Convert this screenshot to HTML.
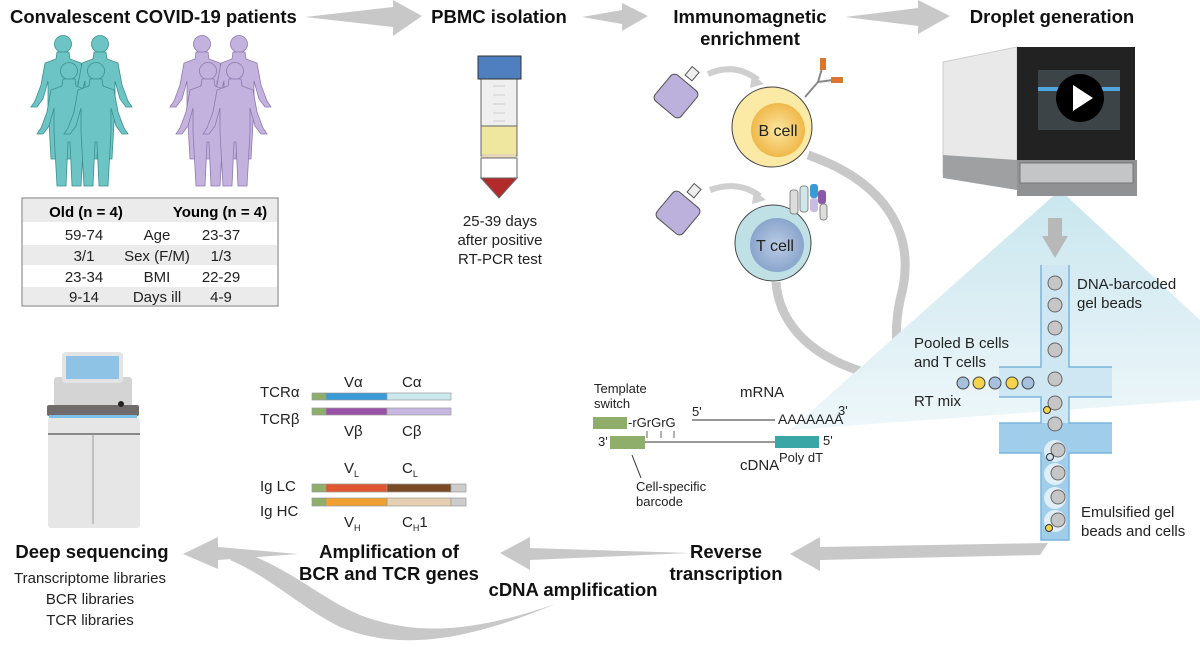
<!DOCTYPE html>
<html><head><meta charset="utf-8"><style>
html,body{margin:0;padding:0;background:#fff;}
svg{display:block;font-family:"Liberation Sans",Arial,sans-serif;}
.t{font-weight:bold;font-size:18.5px;fill:#111;}
.n{font-size:15px;fill:#222;}
.s{font-size:13px;fill:#222;}
</style></head><body>
<svg width="1200" height="649" viewBox="0 0 1200 649" xmlns="http://www.w3.org/2000/svg">
<defs>
<g id="p"><circle cx="30" cy="9" r="8.5"/><path d="M24,17 L36,17 L37,24 L48,28 L52,50 L58,66 L62,72 L56,72 L50,64 L45,46 L45,70 L42,124 L33,124 L31,80 L29,80 L27,124 L18,124 L15,70 L15,46 L10,64 L4,72 L-2,72 L2,66 L8,50 L12,28 L23,24 Z"/></g>
<linearGradient id="cone" x1="0" y1="0" x2="0" y2="1"><stop offset="0" stop-color="#c9e6ee"/><stop offset="1" stop-color="#eef7fa"/></linearGradient>
<radialGradient id="by" cx="0.5" cy="0.5" r="0.5"><stop offset="0" stop-color="#fbe6a0"/><stop offset="1" stop-color="#f0b84a"/></radialGradient>
<radialGradient id="bt" cx="0.5" cy="0.5" r="0.5"><stop offset="0" stop-color="#b9cbe4"/><stop offset="1" stop-color="#8aa5cc"/></radialGradient>
</defs>

<text class="t" x="10" y="23">Convalescent COVID-19 patients</text>
<text class="t" x="499" y="23" text-anchor="middle">PBMC isolation</text>
<text class="t" x="750" y="23" text-anchor="middle">Immunomagnetic</text>
<text class="t" x="750" y="45" text-anchor="middle">enrichment</text>
<text class="t" x="1052" y="23" text-anchor="middle">Droplet generation</text>

<g fill="#c8c8c8">
<path d="M305,17 L393,7 L393,0 L422,16 L393,36 L393,27 Z"/>
<path d="M582,17 L622,10 L622,3 L648,16 L622,31 L622,24 Z"/>
<path d="M845,17 L918,8 L918,0 L950,16 L918,34 L918,26 Z"/>
</g>

<g fill="#6cc4c4" stroke="#3e8f8f" stroke-width="0.8">
<use href="#p" x="33" y="35"/><use href="#p" x="70" y="35"/><use href="#p" x="39" y="62"/><use href="#p" x="66" y="62"/>
</g>
<g fill="#c3b1de" stroke="#8e7aae" stroke-width="0.8">
<use href="#p" x="172" y="35"/><use href="#p" x="209" y="35"/><use href="#p" x="178" y="62"/><use href="#p" x="205" y="62"/>
</g>

<rect x="22" y="198" width="256" height="108" fill="#fff" stroke="#777" stroke-width="1"/>
<rect x="23" y="199" width="254" height="23" fill="#ebebeb"/>
<rect x="23" y="245" width="254" height="20" fill="#ebebeb"/>
<rect x="23" y="287" width="254" height="18" fill="#ebebeb"/>
<text x="86" y="217" text-anchor="middle" font-weight="bold" font-size="15">Old (n = 4)</text>
<text x="220" y="217" text-anchor="middle" font-weight="bold" font-size="15">Young (n = 4)</text>
<g class="n" text-anchor="middle">
<text x="84" y="240">59-74</text><text x="157" y="240">Age</text><text x="221" y="240">23-37</text>
<text x="84" y="261">3/1</text><text x="157" y="261">Sex (F/M)</text><text x="221" y="261">1/3</text>
<text x="84" y="282">23-34</text><text x="157" y="282">BMI</text><text x="221" y="282">22-29</text>
<text x="84" y="302">9-14</text><text x="157" y="302">Days ill</text><text x="221" y="302">4-9</text>
</g>

<rect x="481" y="76" width="36" height="50" fill="#efefef" stroke="#666"/>
<rect x="481" y="126" width="36" height="30" fill="#efe7a0" stroke="#666"/>
<rect x="482" y="154" width="34" height="4" fill="#e6d6b8"/>
<rect x="481" y="158" width="36" height="20" fill="#fff" stroke="#666"/>
<path d="M481,178 L517,178 L499,198 Z" fill="#b22a2a" stroke="#666"/>
<rect x="478" y="56" width="43" height="23" fill="#4f7fbf" stroke="#333"/>
<g stroke="#ccc"><line x1="493" y1="86" x2="505" y2="86"/><line x1="493" y1="95" x2="505" y2="95"/><line x1="493" y1="104" x2="505" y2="104"/><line x1="493" y1="113" x2="505" y2="113"/><line x1="493" y1="121" x2="505" y2="121"/></g>
<g class="n" text-anchor="middle"><text x="500" y="226">25-39 days</text><text x="500" y="245">after positive</text><text x="500" y="264">RT-PCR test</text></g>

<g fill="#bcb0dc" stroke="#555" stroke-width="1">
<rect x="659" y="79" width="34" height="34" rx="5" transform="rotate(40 676 96)"/>
<rect x="688" y="68" width="9" height="11" fill="#eee" transform="rotate(40 692 73)"/>
<rect x="661" y="196" width="34" height="34" rx="5" transform="rotate(40 678 213)"/>
<rect x="690" y="185" width="9" height="11" fill="#eee" transform="rotate(40 694 190)"/>
</g>
<path d="M708,74 Q735,62 758,80" fill="none" stroke="#cfcfcf" stroke-width="6"/>
<path d="M752,74 L764,84 L750,88 Z" fill="#cfcfcf"/>
<path d="M710,190 Q738,180 760,196" fill="none" stroke="#cfcfcf" stroke-width="6"/>
<path d="M754,190 L766,200 L752,204 Z" fill="#cfcfcf"/>

<path d="M808,155 C880,180 920,230 900,300 C890,350 900,375 935,382" fill="none" stroke="#c8c8c8" stroke-width="9"/>
<path d="M776,282 C780,340 840,378 925,382" fill="none" stroke="#c8c8c8" stroke-width="9"/>
<path d="M928,368 L950,382 L928,396 Z" fill="#c8c8c8"/>

<circle cx="772" cy="127" r="40" fill="#fbeaa6" stroke="#444"/>
<circle cx="778" cy="130" r="27" fill="url(#by)"/>
<text x="778" y="136" text-anchor="middle" font-size="16" fill="#222">B cell</text>
<g stroke="#888" stroke-width="2"><line x1="805" y1="97" x2="818" y2="82"/><line x1="818" y1="82" x2="823" y2="65"/><line x1="818" y1="82" x2="833" y2="80"/></g>
<rect x="820" y="58" width="6" height="12" fill="#d8782e"/><rect x="831" y="77" width="12" height="6" fill="#d8782e"/>
<circle cx="773" cy="243" r="38" fill="#bfe0e4" stroke="#444"/>
<circle cx="777" cy="245" r="27" fill="url(#bt)"/>
<text x="775" y="251" text-anchor="middle" font-size="16" fill="#222">T cell</text>
<g><rect x="790" y="190" width="8" height="24" rx="3" fill="#ddd" stroke="#888"/><rect x="800" y="186" width="8" height="26" rx="3" fill="#cfe6ea" stroke="#888"/><rect x="810" y="184" width="8" height="14" rx="3" fill="#3a9ad6"/><rect x="818" y="190" width="8" height="14" rx="3" fill="#8a5aa8"/><rect x="810" y="198" width="8" height="14" rx="3" fill="#c8bde0"/><rect x="820" y="204" width="7" height="16" rx="3" fill="#ddd" stroke="#888"/></g>

<path d="M1060,190 L790,430 L1200,400 L1200,320 Z" fill="url(#cone)"/>
<path d="M943,62 L1017,47 L1017,183 L943,175 Z" fill="#e9e9e9" stroke="#ccc"/>
<path d="M943,155 L1017,160 L1017,190 L943,178 Z" fill="#9ea0a2"/>
<rect x="1017" y="47" width="118" height="115" fill="#222"/>
<rect x="1017" y="160" width="120" height="36" fill="#8f9193"/>
<rect x="1020" y="163" width="113" height="20" fill="#c4c5c6" stroke="#777"/>
<rect x="1038" y="70" width="82" height="60" fill="#3c4448"/>
<rect x="1038" y="87" width="82" height="4" fill="#4ea8df"/>
<circle cx="1080" cy="98" r="24" fill="#000"/>
<path d="M1073,85 L1093,98 L1073,111 Z" fill="#fff"/>
<path d="M1048,218 L1062,218 L1062,236 L1068,236 L1055,258 L1042,236 L1048,236 Z" fill="#b8b8b8"/>

<rect x="999" y="367" width="113" height="30" fill="#cfe6f3"/>
<rect x="1041" y="265" width="28" height="160" fill="#cfe6f3"/>
<rect x="999" y="423" width="113" height="30" fill="#9fcdea"/>
<rect x="1041" y="423" width="28" height="117" fill="#9fcdea"/>
<g stroke="#7ab6dc" stroke-width="1.5" fill="none"><path d="M1041,265 V367 H999"/><path d="M999,397 H1041 V423 H999"/><path d="M999,453 H1041 V540 H1069 V453 H1112"/><path d="M1112,423 H1069 V397 H1112"/><path d="M1112,367 H1069 V265"/></g>
<g fill="#c6c6c6" stroke="#666"><circle cx="1055" cy="283" r="7"/><circle cx="1055" cy="305" r="7"/><circle cx="1055" cy="328" r="7"/><circle cx="1055" cy="350" r="7"/><circle cx="1055" cy="379" r="7"/><circle cx="1055" cy="403" r="7"/><circle cx="1055" cy="424" r="7"/></g>
<g fill="#e0eff7"><circle cx="1055" cy="451" r="11"/><circle cx="1055" cy="474" r="11"/><circle cx="1055" cy="498" r="11"/><circle cx="1055" cy="521" r="11"/></g>
<g fill="#c6c6c6" stroke="#666"><circle cx="1058" cy="450" r="7"/><circle cx="1058" cy="473" r="7"/><circle cx="1058" cy="497" r="7"/><circle cx="1058" cy="520" r="7"/></g>
<circle cx="1047" cy="410" r="3.5" fill="#f5d34a" stroke="#333"/>
<circle cx="1050" cy="457" r="3.5" fill="#cfe2f0" stroke="#333"/>
<circle cx="1049" cy="528" r="3.5" fill="#f5d34a" stroke="#333"/>
<g stroke="#444"><circle cx="963" cy="383" r="6" fill="#a6c0de"/><circle cx="979" cy="383" r="6" fill="#f5d34a"/><circle cx="995" cy="383" r="6" fill="#a6c0de"/><circle cx="1012" cy="383" r="6" fill="#f5d34a"/><circle cx="1028" cy="383" r="6" fill="#a6c0de"/></g>
<g class="n"><text x="914" y="348">Pooled B cells</text><text x="914" y="367">and T cells</text><text x="914" y="406">RT mix</text>
<text x="1077" y="289">DNA-barcoded</text><text x="1077" y="308">gel beads</text>
<text x="1081" y="517">Emulsified gel</text><text x="1081" y="536">beads and cells</text></g>

<g class="s"><text x="594" y="393">Template</text><text x="594" y="408">switch</text>
<text x="740" y="397" font-size="15">mRNA</text><text x="692" y="416">5'</text><text x="778" y="424" font-size="14">AAAAAAA</text><text x="838" y="415">3'</text>
<text x="598" y="446">3'</text><text x="823" y="445">5'</text><text x="779" y="462">Poly dT</text><text x="740" y="470" font-size="15">cDNA</text>
<text x="636" y="491">Cell-specific</text><text x="636" y="506">barcode</text><text x="628" y="427">-rGrGrG</text></g>
<rect x="593" y="417" width="34" height="12" fill="#8fad6b"/>
<line x1="692" y1="420" x2="775" y2="420" stroke="#333"/>
<g stroke="#666"><line x1="647" y1="431" x2="647" y2="438"/><line x1="661" y1="431" x2="661" y2="438"/><line x1="674" y1="431" x2="674" y2="438"/></g>
<line x1="630" y1="442" x2="775" y2="442" stroke="#333"/>
<rect x="610" y="436" width="35" height="13" fill="#8fad6b"/>
<rect x="775" y="436" width="44" height="12" fill="#3aa6a6"/>
<line x1="632" y1="455" x2="641" y2="478" stroke="#333"/>

<g class="n"><text x="260" y="397">TCRα</text><text x="260" y="424">TCRβ</text><text x="260" y="491">Ig LC</text><text x="260" y="516">Ig HC</text>
<text x="344" y="387">Vα</text><text x="402" y="387">Cα</text><text x="344" y="436">Vβ</text><text x="402" y="436">Cβ</text>
<text x="344" y="473">V<tspan font-size="9" dy="4">L</tspan></text><text x="402" y="473">C<tspan font-size="9" dy="4">L</tspan></text>
<text x="344" y="527">V<tspan font-size="9" dy="4">H</tspan></text><text x="402" y="527">C<tspan font-size="9" dy="4">H</tspan><tspan dy="-4">1</tspan></text></g>
<g stroke="#999" stroke-width="0.7">
<rect x="312" y="393" width="14" height="7" fill="#8fad6b"/><rect x="326" y="393" width="61" height="7" fill="#3a9ad6"/><rect x="387" y="393" width="64" height="7" fill="#cbe8ee"/>
<rect x="312" y="408" width="14" height="7" fill="#8fad6b"/><rect x="326" y="408" width="61" height="7" fill="#9a52a8"/><rect x="387" y="408" width="64" height="7" fill="#c6b8e0"/>
<rect x="312" y="484" width="14" height="8" fill="#8fad6b"/><rect x="326" y="484" width="61" height="8" fill="#e0562e"/><rect x="387" y="484" width="64" height="8" fill="#7a4a24"/><rect x="451" y="484" width="15" height="8" fill="#ccc"/>
<rect x="312" y="498" width="14" height="8" fill="#8fad6b"/><rect x="326" y="498" width="61" height="8" fill="#f0a030"/><rect x="387" y="498" width="64" height="8" fill="#e6cfb0"/><rect x="451" y="498" width="15" height="8" fill="#ccc"/>
</g>

<rect x="54" y="377" width="78" height="34" rx="3" fill="#d4d4d4"/>
<rect x="62" y="352" width="61" height="31" rx="4" fill="#e4e4e4"/>
<rect x="66" y="356" width="53" height="23" fill="#8ec3e6"/>
<rect x="47" y="405" width="92" height="11" rx="2" fill="#6f6b6a"/>
<circle cx="121" cy="404" r="3" fill="#222"/>
<rect x="49" y="415" width="88" height="3" fill="#7cc0ea"/>
<rect x="48" y="418" width="92" height="110" rx="3" fill="#e6e6e6"/>
<line x1="48" y1="434" x2="140" y2="434" stroke="#888" stroke-width="2"/>
<line x1="93" y1="434" x2="93" y2="524" stroke="#999"/>

<text class="t" x="92" y="558" text-anchor="middle">Deep sequencing</text>
<g class="n" text-anchor="middle"><text x="90" y="583">Transcriptome libraries</text><text x="90" y="604">BCR libraries</text><text x="90" y="625">TCR libraries</text></g>
<text class="t" x="389" y="558" text-anchor="middle">Amplification of</text>
<text class="t" x="389" y="580" text-anchor="middle">BCR and TCR genes</text>
<text class="t" x="726" y="558" text-anchor="middle">Reverse</text>
<text class="t" x="726" y="580" text-anchor="middle">transcription</text>
<text class="t" x="573" y="596" text-anchor="middle">cDNA amplification</text>

<g fill="#c8c8c8">
<path d="M1048,543 L1040,555 L820,560 L820,571 L790,554 L820,537 L820,547 Z"/>
<path d="M690,553 L530,548 L530,537 L500,553 L530,570 L530,560 Z"/>
<path d="M298,554 L218,547 L218,537 L183,554 L218,569 L218,560 Z"/>
<path d="M555,604 C470,640 400,652 340,627 C300,607 270,577 230,560 L240,551 C290,568 320,598 360,615 C420,638 480,630 555,604 Z"/>
</g>
</svg>
</body></html>
